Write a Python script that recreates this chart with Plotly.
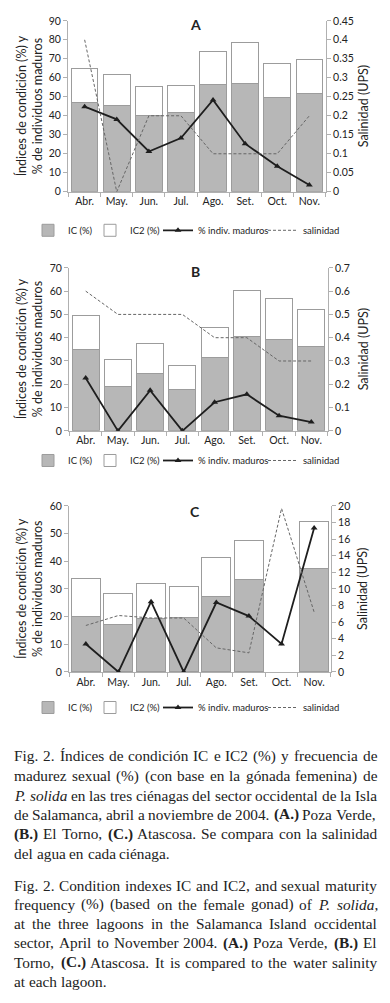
import re
import plotly.graph_objects as go

W, H = 390, 1003

months = ["Abr.", "May.", "Jun.", "Jul.", "Ago.", "Set.", "Oct.", "Nov."]

# Panel A - Poza Verde
a_ic = [46.9, 45.3, 40.2, 41.7, 56.7, 57.1, 49.8, 51.6]
a_ic2 = [17.8, 16.4, 15.3, 14.2, 17.4, 21.3, 17.6, 17.9]
a_mad = [44.8, 38.1, 21.2, 28.3, 48.3, 25.3, 13.4, 3.6]
a_sal = [0.4, 0.0, 0.2, 0.2, 0.1, 0.1, 0.1, 0.2]

# Panel B - El Torno
b_ic = [35.1, 19.2, 24.8, 17.9, 31.5, 40.4, 39.4, 36.4]
b_ic2 = [14.6, 11.3, 12.9, 10.3, 12.8, 20.0, 17.3, 15.7]
b_mad = [22.7, 0.0, 17.4, 0.0, 12.3, 15.7, 6.5, 3.8]
b_sal = [0.6, 0.5, 0.5, 0.5, 0.4, 0.4, 0.3, 0.3]

# Panel C - Atascosa
c_ic = [20.0, 17.2, 19.4, 19.6, 27.2, 33.3, None, 37.4]
c_ic2 = [13.7, 11.0, 12.7, 11.3, 14.1, 14.3, None, 17.0]
c_mad = [10.1, 0.0, 25.4, 0.0, 25.1, 20.2, 10.1, 52.0]
c_sal = [5.6, 6.8, 6.5, 6.5, 2.9, 2.3, 19.7, 7.2]

legend_names = ["IC (%)", "IC2 (%)", "% indiv. maduros", "salinidad"]
y_title = "Índices de condición (%) y<br>% de individuos maduros"
y2_title = "Salinidad (UPS)"

caption_es = [
    "Fig. 2. Índices de condición IC e IC2 (%) y frecuencia de",
    "madurez sexual (%) (con base en la gónada femenina) de",
    "<i>P.</i> <i>solida</i> en las tres ciénagas del sector occidental de la Isla",
    "de Salamanca, abril a noviembre de 2004. <b>(A.)</b> Poza Verde,",
    "<b>(B.)</b> El Torno, <b>(C.)</b> Atascosa. Se compara con la salinidad",
    "del agua en cada ciénaga.",
]
caption_en = [
    "Fig. 2. Condition indexes IC and IC2, and sexual maturity",
    "frequency (%) (based on the female gonad) of <i>P.</i> <i>solida</i>,",
    "at the three lagoons in the Salamanca Island occidental",
    "sector, April to November 2004. <b>(A.)</b> Poza Verde, <b>(B.)</b> El",
    "Torno, <b>(C.)</b> Atascosa. It is compared to the water salinity",
    "at each lagoon.",
]

SANS = "Lato, 'Open Sans', sans-serif"
SERIF = "'Liberation Serif', 'Times New Roman', serif"
AXC = "#b0b0b0"
CAP_SIZE = 15.3
CAP_LEFT, CAP_RIGHT = 14, 377

# Times / Liberation Serif advance widths (per 1000 em)
TW = {" ": 250, ".": 250, ",": 250, "(": 333, ")": 333, "%": 833, "-": 333, ":": 278}
TW.update({c: 500 for c in "0123456789"})
TW.update(dict(zip("abcdefghijklmnopqrstuvwxyz",
                   [444, 500, 444, 500, 444, 333, 500, 500, 278, 278, 500, 278, 778,
                    500, 500, 500, 500, 333, 389, 278, 500, 500, 722, 500, 500, 444])))
TW.update(dict(zip("ABCDEFGHIJKLMNOPQRSTUVWXYZ",
                   [722, 667, 667, 722, 611, 556, 722, 722, 333, 389, 722, 611, 889,
                    722, 722, 556, 722, 667, 556, 611, 722, 722, 944, 722, 722, 611])))
ACC = {"á": "a", "é": "e", "í": "i", "ó": "o", "ú": "u", "Í": "I", "ñ": "n"}


def word_width(tok):
    plain = re.sub(r"<[^>]+>", "", tok)
    return sum(TW.get(ACC.get(ch, ch), 500) for ch in plain) * CAP_SIZE / 1000.0


def fx(px):
    return px / W


def fy(py):
    return 1 - py / H


panels = [
    dict(label="A", ic=a_ic, ic2=a_ic2, mad=a_mad, sal=a_sal, ymax=90, smax=0.45, sd=0.05,
         x0=68, x1=326, top=15, bot=188, leg_y=227, title_y=19, bw=0.83),
    dict(label="B", ic=b_ic, ic2=b_ic2, mad=b_mad, sal=b_sal, ymax=70, smax=0.7, sd=0.1,
         x0=69, x1=328, top=265, bot=430, leg_y=460, title_y=269, bw=0.84),
    dict(label="C", ic=c_ic, ic2=c_ic2, mad=c_mad, sal=c_sal, ymax=60, smax=20, sd=2,
         x0=69, x1=331, top=506, bot=674, leg_y=710, title_y=512, bw=0.89),
]
legend_text_x = [73, 135, 203, 308]

fig = go.Figure()
layout = dict(
    width=W, height=H, margin=dict(l=0, r=0, t=0, b=0),
    paper_bgcolor="white", plot_bgcolor="white",
    barmode="stack", showlegend=True,
    font=dict(family=SANS, size=10.5, color="#222"),
)
annotations = []
leg_count = 0

for i, p in enumerate(panels):
    n = i + 1
    xa = "x" if n == 1 else f"x{n}"
    ya = "y" if n == 1 else f"y{2 * n - 1}"
    ya2 = f"y{2 * n}"

    legs = []
    for k in range(4):
        leg_count += 1
        lname = "legend" if leg_count == 1 else f"legend{leg_count}"
        legs.append(lname)
        layout[lname] = dict(orientation="h", x=fx(legend_text_x[k] - 45), y=fy(p["leg_y"]),
                             xanchor="left", yanchor="middle",
                             font=dict(size=9.5, color="#222"), itemwidth=30,
                             bgcolor="rgba(0,0,0,0)")

    fig.add_trace(go.Bar(x=months, y=p["ic"], name=legend_names[0], xaxis=xa, yaxis=ya,
                         width=p["bw"], marker=dict(color="#b7b7b7", line=dict(color="#9c9c9c", width=1)),
                         legend=legs[0]))
    fig.add_trace(go.Bar(x=months, y=p["ic2"], name=legend_names[1], xaxis=xa, yaxis=ya,
                         width=p["bw"], marker=dict(color="white", line=dict(color="#9c9c9c", width=1)),
                         legend=legs[1]))
    fig.add_trace(go.Scatter(x=months, y=p["mad"], name=legend_names[2], xaxis=xa, yaxis=ya,
                             mode="lines+markers", line=dict(color="#1e1e1e", width=1.8),
                             marker=dict(symbol="triangle-up", size=6, color="#1e1e1e"),
                             legend=legs[2]))
    fig.add_trace(go.Scatter(x=months, y=p["sal"], name=legend_names[3], xaxis=xa, yaxis=ya2,
                             mode="lines", line=dict(color="#666", width=1, dash="3px,2px"),
                             legend=legs[3]))

    xkey = "xaxis" if n == 1 else f"xaxis{n}"
    ykey = "yaxis" if n == 1 else f"yaxis{2 * n - 1}"
    y2key = f"yaxis{2 * n}"
    dom_y = [fy(p["bot"]), fy(p["top"])]
    layout[xkey] = dict(domain=[fx(p["x0"]), fx(p["x1"])], anchor=ya, type="category",
                        showline=True, linecolor=AXC, linewidth=1, ticks="outside",
                        tickson="boundaries", ticklen=4, tickcolor=AXC,
                        showgrid=False, tickfont=dict(size=10.5, color="#222"))
    layout[ykey] = dict(domain=dom_y, anchor=xa, range=[0, p["ymax"]], dtick=10,
                        showline=True, linecolor=AXC, ticks="outside", ticklen=4, tickcolor=AXC,
                        showgrid=False, zeroline=False, tickfont=dict(size=10.5, color="#222"))
    layout[y2key] = dict(domain=dom_y, anchor=xa, overlaying=ya, side="right",
                         range=[0, p["smax"]], dtick=p["sd"],
                         showline=True, linecolor=AXC, ticks="outside", ticklen=4, tickcolor=AXC,
                         showgrid=False, zeroline=False, tickfont=dict(size=10.5, color="#222"))

    mid = (p["top"] + p["bot"]) / 2
    annotations.append(dict(text=f"<b>{p['label']}</b>", x=fx(195), y=fy(p["title_y"]),
                            xref="paper", yref="paper", showarrow=False,
                            font=dict(size=14, color="#222"), xanchor="center", yanchor="middle"))
    annotations.append(dict(text=y_title, x=fx(29), y=fy(mid), xref="paper", yref="paper",
                            showarrow=False, textangle=-90, font=dict(size=12.5, color="#222"),
                            xanchor="center", yanchor="middle"))
    annotations.append(dict(text=y2_title, x=fx(363), y=fy(mid), xref="paper", yref="paper",
                            showarrow=False, textangle=-90, font=dict(size=12.5, color="#222"),
                            xanchor="center", yanchor="middle"))

# justified caption paragraphs, word by word
es_y = [759, 779, 799, 818, 838, 858]
en_y = [890, 909, 929, 948, 968, 987]
space_w = TW[" "] * CAP_SIZE / 1000.0
for lines, ys in ((caption_es, es_y), (caption_en, en_y)):
    for li, (txt, yy) in enumerate(zip(lines, ys)):
        words = txt.split(" ")
        widths = [word_width(w) for w in words]
        last = li == len(lines) - 1
        if last or len(words) < 2:
            gap = space_w
        else:
            gap = (CAP_RIGHT - CAP_LEFT - sum(widths)) / (len(words) - 1)
        xpos = CAP_LEFT
        for w, ww in zip(words, widths):
            annotations.append(dict(text=w, x=fx(xpos), y=fy(yy), xref="paper", yref="paper",
                                    showarrow=False, xanchor="left", yanchor="middle",
                                    borderpad=0, borderwidth=0,
                                    font=dict(family=SERIF, size=CAP_SIZE, color="#222")))
            xpos += ww + gap

layout["annotations"] = annotations
fig.update_layout(**layout)
fig.write_html("out.html", config={"displayModeBar": False},
               post_script="document.body.style.margin='0px';document.body.style.overflow='hidden';")
